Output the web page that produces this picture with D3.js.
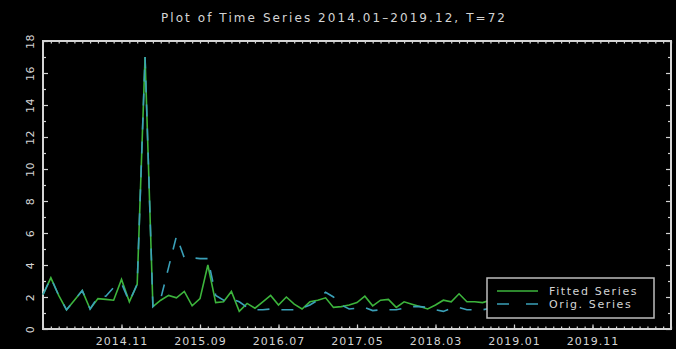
<!DOCTYPE html>
<html>
<head>
<meta charset="utf-8">
<script src="https://cdn.jsdelivr.net/npm/d3@7"></script>
<style>
  html, body { margin: 0; padding: 0; background: #000; }
  svg { display: block; }
  text { font-family: "DejaVu Sans", sans-serif; fill: #d4d4d4; }
</style>
</head>
<body>
<svg id="chart" width="676" height="349"></svg>
<script>
// Monthly index: 0 = 2014.01 ... 71 = 2019.12
const titleText = "Plot of Time Series 2014.01\u20132019.12, T=72";
const xTickValues = [10, 20, 30, 40, 50, 60, 70];
const xTickLabels = ["2014.11", "2015.09", "2016.07", "2017.05", "2018.03", "2019.01", "2019.11"];
const yTickValues = [0, 2, 4, 6, 8, 10, 12, 14, 16, 18];

const fittedSeries = [
  2.15, 3.2, 2.1, 1.2, 1.8, 2.4, 1.25, 1.9, 1.85, 1.8,
  3.1, 1.7, 2.8, 17.0, 1.4, 1.8, 2.1, 1.95, 2.35, 1.45,
  1.9, 4.0, 1.65, 1.7, 2.35, 1.1, 1.6, 1.3, 1.7, 2.1,
  1.5, 2.0, 1.55, 1.25, 1.7, 1.8, 1.95, 1.35, 1.4, 1.5,
  1.65, 2.05, 1.45, 1.8, 1.85, 1.35, 1.7, 1.55, 1.4, 1.25,
  1.5, 1.8, 1.7, 2.2, 1.7, 1.7, 1.65, 1.8, 1.5, 1.6,
  1.9, 1.4, 1.7, 1.5, 1.6, 2.0, 1.5, 1.6, 1.4, 1.7,
  1.5, 1.6
];
const origSeries = [
  2.15, 3.2, 2.1, 1.2, 1.8, 2.4, 1.25, 2.0, 2.05, 2.6,
  2.85, 1.7, 2.8, 17.0, 1.4, 1.9, 3.85, 5.8, 4.45, 4.45,
  4.4, 4.4, 2.1, 1.8, 1.9, 1.7, 1.35, 1.2, 1.2, 1.25,
  1.2, 1.2, 1.2, 1.3, 1.5, 1.8, 2.3, 2.0, 1.5, 1.25,
  1.3, 1.35, 1.15, 1.2, 1.2, 1.2, 1.3, 1.4, 1.4, 1.35,
  1.2, 1.1, 1.3, 1.35, 1.2, 1.2, 1.2, 1.3, 1.2, 1.4,
  1.5, 1.2, 1.3, 1.2, 1.4, 1.6, 1.3, 1.2, 1.3, 1.4,
  1.2, 1.3
];
const seriesNames = ["Fitted Series", "Orig. Series"];

const colAxis = "#d4d4d4";
const colFitted = "#3cb43c";
const colOrig = "#3aa0b8";

const svg = d3.select("#chart");
const plot = { left: 43, right: 671, top: 41, bottom: 329 };

const x = d3.scaleLinear().domain([0, 80]).range([plot.left, plot.right]);
const y = d3.scaleLinear().domain([0, 18]).range([plot.bottom, plot.top]);

svg.append("rect").attr("width", 676).attr("height", 349).attr("fill", "#000");

// title
const title = svg.append("text")
  .attr("x", 333).attr("y", 22)
  .attr("text-anchor", "middle")
  .style("font-size", "12px")
  .text(titleText);
title.attr("textLength", 344).attr("lengthAdjust", "spacing");

function styleAxis(g) {
  g.select(".domain").remove();
  g.selectAll("line").attr("stroke", colAxis).attr("stroke-width", 1.2);
  g.selectAll("text").style("fill", colAxis);
}

const months = d3.range(0, 81);
const minorY = d3.range(1, 18, 2);

// bottom axis: monthly minor ticks + labelled major ticks
svg.append("g").attr("transform", `translate(0,${plot.bottom})`)
  .call(d3.axisBottom(x).tickValues(months).tickSize(-2.5).tickFormat(""))
  .call(styleAxis);
svg.append("g").attr("transform", `translate(0,${plot.bottom})`)
  .call(d3.axisBottom(x).tickValues(xTickValues).tickSize(-4.5).tickPadding(8)
    .tickFormat((d, i) => xTickLabels[i]))
  .call(styleAxis)
  .call(g => g.selectAll("text").style("font-size", "11px").style("letter-spacing", "1px"));

// top axis
svg.append("g").attr("transform", `translate(0,${plot.top})`)
  .call(d3.axisTop(x).tickValues(months).tickSize(-2.5).tickFormat(""))
  .call(styleAxis);

// left axis with rotated labels
svg.append("g").attr("transform", `translate(${plot.left},0)`)
  .call(d3.axisLeft(y).tickValues(minorY).tickSize(-3).tickFormat(""))
  .call(styleAxis);
svg.append("g").attr("transform", `translate(${plot.left},0)`)
  .call(d3.axisLeft(y).tickValues(yTickValues).tickSize(-5).tickFormat(d3.format("d")))
  .call(styleAxis)
  .call(g => g.selectAll("text")
    .attr("x", 0).attr("y", 0).attr("dy", "0.36em")
    .attr("text-anchor", "middle")
    .attr("transform", "translate(-13,0) rotate(-90)")
    .style("font-size", "11px").style("letter-spacing", "0.5px"));

// right axis
svg.append("g").attr("transform", `translate(${plot.right},0)`)
  .call(d3.axisRight(y).tickValues(minorY).tickSize(-3).tickFormat(""))
  .call(styleAxis);
svg.append("g").attr("transform", `translate(${plot.right},0)`)
  .call(d3.axisRight(y).tickValues(yTickValues).tickSize(-5).tickFormat(""))
  .call(styleAxis);

// frame
svg.append("rect")
  .attr("x", plot.left).attr("y", plot.top)
  .attr("width", plot.right - plot.left).attr("height", plot.bottom - plot.top)
  .attr("fill", "none").attr("stroke", colAxis).attr("stroke-width", 2);

// series
const line = d3.line().x((d, i) => x(i)).y(d => y(d));
svg.append("path").datum(fittedSeries)
  .attr("d", line).attr("fill", "none")
  .attr("stroke", colFitted).attr("stroke-width", 1.6).attr("stroke-linejoin", "miter");
svg.append("path").datum(origSeries)
  .attr("d", line).attr("fill", "none")
  .attr("stroke", colOrig).attr("stroke-width", 1.6).attr("stroke-dasharray", "12,12");

// legend
const lg = svg.append("g");
lg.append("rect").attr("x", 487).attr("y", 278).attr("width", 167).attr("height", 40)
  .attr("fill", "#000").attr("stroke", "#bdbdbd").attr("stroke-width", 1.5);
const legendItems = [
  { name: seriesNames[0], color: colFitted, dash: null, y: 291 },
  { name: seriesNames[1], color: colOrig, dash: "12,17", y: 304 }
];
legendItems.forEach(it => {
  lg.append("line").attr("x1", 497).attr("x2", 538).attr("y1", it.y).attr("y2", it.y)
    .attr("stroke", it.color).attr("stroke-width", 1.6)
    .attr("stroke-dasharray", it.dash);
  lg.append("text").attr("x", 549).attr("y", it.y + 4)
    .style("font-size", "11px").style("letter-spacing", "1.6px")
    .text(it.name);
});
</script>
</body>
</html>
